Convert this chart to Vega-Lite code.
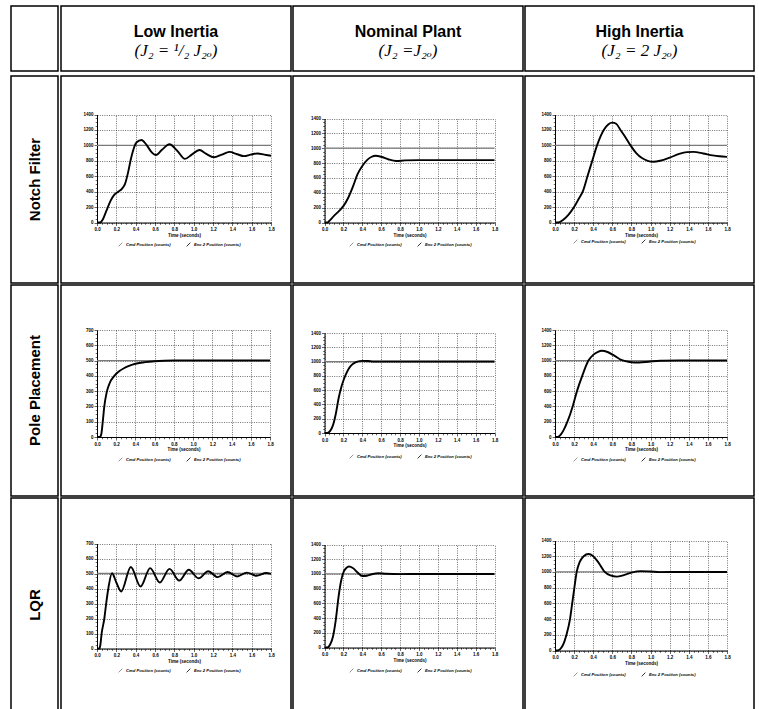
{
"$schema": "https://vega.github.io/schema/vega-lite/v6.json",
"padding": {"left": 10, "top": 5, "right": 0, "bottom": 0},
"background": "white",
"datasets": {
"notch_low": [{"t":0,"cmd":1000,"enc":0},{"t":0.03,"cmd":1000,"enc":0},{"t":0.06,"cmd":1000,"enc":40},{"t":0.1,"cmd":1000,"enc":160},{"t":0.14,"cmd":1000,"enc":280},{"t":0.18,"cmd":1000,"enc":360},{"t":0.22,"cmd":1000,"enc":400},{"t":0.26,"cmd":1000,"enc":440},{"t":0.29,"cmd":1000,"enc":500},{"t":0.32,"cmd":1000,"enc":640},{"t":0.35,"cmd":1000,"enc":820},{"t":0.38,"cmd":1000,"enc":960},{"t":0.41,"cmd":1000,"enc":1040},{"t":0.46,"cmd":1000,"enc":1070},{"t":0.51,"cmd":1000,"enc":1010},{"t":0.56,"cmd":1000,"enc":920},{"t":0.61,"cmd":1000,"enc":875},{"t":0.67,"cmd":1000,"enc":940},{"t":0.75,"cmd":1000,"enc":1015},{"t":0.83,"cmd":1000,"enc":930},{"t":0.91,"cmd":1000,"enc":825},{"t":0.98,"cmd":1000,"enc":880},{"t":1.06,"cmd":1000,"enc":940},{"t":1.13,"cmd":1000,"enc":890},{"t":1.21,"cmd":1000,"enc":845},{"t":1.29,"cmd":1000,"enc":880},{"t":1.37,"cmd":1000,"enc":915},{"t":1.45,"cmd":1000,"enc":885},{"t":1.52,"cmd":1000,"enc":860},{"t":1.59,"cmd":1000,"enc":880},{"t":1.66,"cmd":1000,"enc":895},{"t":1.73,"cmd":1000,"enc":880},{"t":1.8,"cmd":1000,"enc":865}],
"notch_nom": [{"t":0,"cmd":1000,"enc":0},{"t":0.03,"cmd":1000,"enc":0},{"t":0.05,"cmd":1000,"enc":20},{"t":0.1,"cmd":1000,"enc":90},{"t":0.15,"cmd":1000,"enc":150},{"t":0.2,"cmd":1000,"enc":220},{"t":0.25,"cmd":1000,"enc":330},{"t":0.3,"cmd":1000,"enc":480},{"t":0.35,"cmd":1000,"enc":650},{"t":0.4,"cmd":1000,"enc":760},{"t":0.45,"cmd":1000,"enc":840},{"t":0.5,"cmd":1000,"enc":885},{"t":0.54,"cmd":1000,"enc":898},{"t":0.6,"cmd":1000,"enc":885},{"t":0.68,"cmd":1000,"enc":848},{"t":0.76,"cmd":1000,"enc":828},{"t":0.85,"cmd":1000,"enc":836},{"t":1.0,"cmd":1000,"enc":840},{"t":1.8,"cmd":1000,"enc":840}],
"notch_high": [{"t":0,"cmd":1000,"enc":0},{"t":0.03,"cmd":1000,"enc":0},{"t":0.08,"cmd":1000,"enc":30},{"t":0.14,"cmd":1000,"enc":100},{"t":0.2,"cmd":1000,"enc":200},{"t":0.25,"cmd":1000,"enc":310},{"t":0.29,"cmd":1000,"enc":400},{"t":0.34,"cmd":1000,"enc":600},{"t":0.39,"cmd":1000,"enc":800},{"t":0.44,"cmd":1000,"enc":1000},{"t":0.51,"cmd":1000,"enc":1200},{"t":0.56,"cmd":1000,"enc":1275},{"t":0.6,"cmd":1000,"enc":1295},{"t":0.64,"cmd":1000,"enc":1280},{"t":0.685,"cmd":1000,"enc":1200},{"t":0.74,"cmd":1000,"enc":1100},{"t":0.79,"cmd":1000,"enc":1000},{"t":0.85,"cmd":1000,"enc":900},{"t":0.91,"cmd":1000,"enc":835},{"t":0.97,"cmd":1000,"enc":800},{"t":1.03,"cmd":1000,"enc":788},{"t":1.1,"cmd":1000,"enc":800},{"t":1.2,"cmd":1000,"enc":840},{"t":1.3,"cmd":1000,"enc":890},{"t":1.38,"cmd":1000,"enc":912},{"t":1.45,"cmd":1000,"enc":915},{"t":1.55,"cmd":1000,"enc":895},{"t":1.65,"cmd":1000,"enc":870},{"t":1.72,"cmd":1000,"enc":858},{"t":1.8,"cmd":1000,"enc":850}],
"pole_low": [{"t":0,"cmd":500,"enc":0},{"t":0.03,"cmd":500,"enc":0},{"t":0.045,"cmd":500,"enc":20},{"t":0.06,"cmd":500,"enc":100},{"t":0.076,"cmd":500,"enc":200},{"t":0.1,"cmd":500,"enc":290},{"t":0.13,"cmd":500,"enc":350},{"t":0.18,"cmd":500,"enc":400},{"t":0.23,"cmd":500,"enc":430},{"t":0.28,"cmd":500,"enc":450},{"t":0.34,"cmd":500,"enc":467},{"t":0.4,"cmd":500,"enc":479},{"t":0.5,"cmd":500,"enc":490},{"t":0.6,"cmd":500,"enc":496},{"t":0.7,"cmd":500,"enc":499},{"t":0.8,"cmd":500,"enc":500},{"t":1.8,"cmd":500,"enc":500}],
"pole_nom": [{"t":0,"cmd":1000,"enc":0},{"t":0.03,"cmd":1000,"enc":0},{"t":0.06,"cmd":1000,"enc":30},{"t":0.09,"cmd":1000,"enc":110},{"t":0.12,"cmd":1000,"enc":270},{"t":0.15,"cmd":1000,"enc":490},{"t":0.18,"cmd":1000,"enc":650},{"t":0.21,"cmd":1000,"enc":770},{"t":0.24,"cmd":1000,"enc":860},{"t":0.27,"cmd":1000,"enc":925},{"t":0.3,"cmd":1000,"enc":965},{"t":0.34,"cmd":1000,"enc":995},{"t":0.4,"cmd":1000,"enc":1010},{"t":0.46,"cmd":1000,"enc":1008},{"t":0.52,"cmd":1000,"enc":1002},{"t":0.6,"cmd":1000,"enc":1000},{"t":1.8,"cmd":1000,"enc":1000}],
"pole_high": [{"t":0,"cmd":1000,"enc":0},{"t":0.03,"cmd":1000,"enc":0},{"t":0.06,"cmd":1000,"enc":30},{"t":0.09,"cmd":1000,"enc":90},{"t":0.13,"cmd":1000,"enc":200},{"t":0.185,"cmd":1000,"enc":400},{"t":0.23,"cmd":1000,"enc":600},{"t":0.285,"cmd":1000,"enc":800},{"t":0.35,"cmd":1000,"enc":1000},{"t":0.4,"cmd":1000,"enc":1075},{"t":0.45,"cmd":1000,"enc":1115},{"t":0.49,"cmd":1000,"enc":1128},{"t":0.55,"cmd":1000,"enc":1112},{"t":0.62,"cmd":1000,"enc":1065},{"t":0.7,"cmd":1000,"enc":1005},{"t":0.78,"cmd":1000,"enc":982},{"t":0.88,"cmd":1000,"enc":975},{"t":0.98,"cmd":1000,"enc":985},{"t":1.1,"cmd":1000,"enc":998},{"t":1.3,"cmd":1000,"enc":1000},{"t":1.8,"cmd":1000,"enc":1000}],
"lqr_low": [{"t":0,"cmd":500,"enc":0},{"t":0.025,"cmd":500,"enc":0},{"t":0.035,"cmd":500,"enc":25},{"t":0.048,"cmd":500,"enc":100},{"t":0.076,"cmd":500,"enc":200},{"t":0.095,"cmd":500,"enc":300},{"t":0.117,"cmd":500,"enc":400},{"t":0.155,"cmd":500,"enc":502},{"t":0.2,"cmd":500,"enc":440},{"t":0.25,"cmd":500,"enc":380},{"t":0.35,"cmd":500,"enc":543},{"t":0.45,"cmd":500,"enc":413},{"t":0.55,"cmd":500,"enc":536},{"t":0.65,"cmd":500,"enc":440},{"t":0.75,"cmd":500,"enc":531},{"t":0.85,"cmd":500,"enc":453},{"t":0.95,"cmd":500,"enc":525},{"t":1.05,"cmd":500,"enc":468},{"t":1.15,"cmd":500,"enc":515},{"t":1.25,"cmd":500,"enc":476},{"t":1.35,"cmd":500,"enc":510},{"t":1.45,"cmd":500,"enc":480},{"t":1.55,"cmd":500,"enc":506},{"t":1.65,"cmd":500,"enc":485},{"t":1.75,"cmd":500,"enc":503},{"t":1.8,"cmd":500,"enc":497}],
"lqr_nom": [{"t":0,"cmd":1000,"enc":0},{"t":0.03,"cmd":1000,"enc":0},{"t":0.06,"cmd":1000,"enc":40},{"t":0.09,"cmd":1000,"enc":150},{"t":0.12,"cmd":1000,"enc":380},{"t":0.15,"cmd":1000,"enc":700},{"t":0.175,"cmd":1000,"enc":900},{"t":0.2,"cmd":1000,"enc":1020},{"t":0.23,"cmd":1000,"enc":1080},{"t":0.26,"cmd":1000,"enc":1100},{"t":0.3,"cmd":1000,"enc":1080},{"t":0.35,"cmd":1000,"enc":1020},{"t":0.4,"cmd":1000,"enc":972},{"t":0.45,"cmd":1000,"enc":975},{"t":0.5,"cmd":1000,"enc":995},{"t":0.57,"cmd":1000,"enc":1010},{"t":0.65,"cmd":1000,"enc":1003},{"t":0.8,"cmd":1000,"enc":998},{"t":1.0,"cmd":1000,"enc":1000},{"t":1.8,"cmd":1000,"enc":1000}],
"lqr_high": [{"t":0,"cmd":1000,"enc":0},{"t":0.03,"cmd":1000,"enc":0},{"t":0.07,"cmd":1000,"enc":40},{"t":0.1,"cmd":1000,"enc":120},{"t":0.12,"cmd":1000,"enc":200},{"t":0.157,"cmd":1000,"enc":400},{"t":0.18,"cmd":1000,"enc":600},{"t":0.203,"cmd":1000,"enc":800},{"t":0.227,"cmd":1000,"enc":1000},{"t":0.26,"cmd":1000,"enc":1130},{"t":0.3,"cmd":1000,"enc":1200},{"t":0.35,"cmd":1000,"enc":1228},{"t":0.4,"cmd":1000,"enc":1200},{"t":0.46,"cmd":1000,"enc":1110},{"t":0.52,"cmd":1000,"enc":1000},{"t":0.58,"cmd":1000,"enc":955},{"t":0.645,"cmd":1000,"enc":940},{"t":0.72,"cmd":1000,"enc":960},{"t":0.8,"cmd":1000,"enc":992},{"t":0.9,"cmd":1000,"enc":1010},{"t":1.0,"cmd":1000,"enc":1005},{"t":1.1,"cmd":1000,"enc":998},{"t":1.3,"cmd":1000,"enc":1000},{"t":1.8,"cmd":1000,"enc":1000}]
},
"spacing": 3,
"resolve": {"scale": {"color": "independent"}, "legend": {"color": "independent"}},
"vconcat": [
{
"spacing": 1,
"resolve": {"scale": {"color": "independent"}, "legend": {"color": "independent"}},
"hconcat": [
{"width": 47, "height": 65, "data": {"values": [{"label": ""}]}, "mark": {"type": "text"}, "encoding": {"text": {"field": "label"}, "x": {"datum": 0.5, "type": "quantitative", "scale": {"domain": [0, 1]}, "axis": null}, "y": {"datum": 0.5, "type": "quantitative", "scale": {"domain": [0, 1]}, "axis": null}}},
{"spacing": 0, "hconcat": [
{"width": 230, "height": 65, "data": {"values": [{"title": "Low Inertia", "formula": "(J₂ = ¹/₂ J₂ₒ)"}]}, "encoding": {"x": {"datum": 0.5, "type": "quantitative", "scale": {"domain": [0, 1]}, "axis": null}, "y": {"datum": 0.5, "type": "quantitative", "scale": {"domain": [0, 1]}, "axis": null}}, "layer": [
{"mark": {"type": "text", "font": "Liberation Sans", "fontWeight": "bold", "fontSize": 16, "dy": -7, "color": "black"}, "encoding": {"text": {"field": "title"}}},
{"mark": {"type": "text", "font": "Liberation Serif", "fontStyle": "italic", "fontSize": 17, "dy": 12, "color": "black"}, "encoding": {"text": {"field": "formula"}}}]},
{"width": 230, "height": 65, "data": {"values": [{"title": "Nominal Plant", "formula": "(J₂ =J₂ₒ)"}]}, "encoding": {"x": {"datum": 0.5, "type": "quantitative", "scale": {"domain": [0, 1]}, "axis": null}, "y": {"datum": 0.5, "type": "quantitative", "scale": {"domain": [0, 1]}, "axis": null}}, "layer": [
{"mark": {"type": "text", "font": "Liberation Sans", "fontWeight": "bold", "fontSize": 16, "dy": -7, "color": "black"}, "encoding": {"text": {"field": "title"}}},
{"mark": {"type": "text", "font": "Liberation Serif", "fontStyle": "italic", "fontSize": 17, "dy": 12, "color": "black"}, "encoding": {"text": {"field": "formula"}}}]},
{"width": 229, "height": 65, "data": {"values": [{"title": "High Inertia", "formula": "(J₂ = 2 J₂ₒ)"}]}, "encoding": {"x": {"datum": 0.5, "type": "quantitative", "scale": {"domain": [0, 1]}, "axis": null}, "y": {"datum": 0.5, "type": "quantitative", "scale": {"domain": [0, 1]}, "axis": null}}, "layer": [
{"mark": {"type": "text", "font": "Liberation Sans", "fontWeight": "bold", "fontSize": 16, "dy": -7, "color": "black"}, "encoding": {"text": {"field": "title"}}},
{"mark": {"type": "text", "font": "Liberation Serif", "fontStyle": "italic", "fontSize": 17, "dy": 12, "color": "black"}, "encoding": {"text": {"field": "formula"}}}]}
]}
]
},
{
"spacing": 0,
"resolve": {"scale": {"color": "independent"}, "legend": {"color": "independent"}},
"vconcat": [
{
"spacing": 1,
"resolve": {"scale": {"color": "independent"}, "legend": {"color": "independent"}},
"hconcat": [
{"width": 47, "height": 207, "data": {"values": [{"label": "Notch Filter"}]}, "mark": {"type": "text", "angle": 270, "font": "Liberation Sans", "fontWeight": "bold", "fontSize": 15, "color": "black"}, "encoding": {"text": {"field": "label"}, "x": {"datum": 0.5, "type": "quantitative", "scale": {"domain": [0, 1]}, "axis": null}, "y": {"datum": 0.5, "type": "quantitative", "scale": {"domain": [0, 1]}, "axis": null}}},
{"spacing": 0, "resolve": {"scale": {"color": "independent"}, "legend": {"color": "independent"}}, "hconcat": [
{"width": 230, "height": 207, "data": {"name": "notch_low"}, "transform": [{"fold": ["cmd", "enc"], "as": ["series", "pos"]}], "layer": [
{"transform": [{"filter": "datum.series === 'cmd'"}], "mark": {"type": "line", "strokeWidth": 1.3}, "encoding": {
"x": {"field": "t", "type": "quantitative", "scale": {"domain": [0, 1.8], "range": [36, 210], "nice": false, "zero": false}, "axis": {"orient": "top", "values": [0,0.2,0.4,0.6,0.8,1,1.2,1.4,1.6,1.8], "grid": true, "domain": false, "ticks": false, "labels": false, "title": null}},
"y": {"field": "pos", "type": "quantitative", "scale": {"domain": [0, 1400], "range": [146.5, 38.5], "nice": false, "zero": false}, "axis": {"orient": "left", "offset": -36, "values": [0,50,100,150,200,250,300,350,400,450,500,550,600,650,700,750,800,850,900,950,1000,1050,1100,1150,1200,1250,1300,1350,1400], "grid": true, "gridOpacity": {"condition": {"test": "datum.value % 200 === 0", "value": 1}, "value": 0}, "tickSize": {"condition": {"test": "datum.value % 200 === 0", "value": 3}, "value": 1.8}, "labelExpr": "datum.value % 200 === 0 ? format(datum.value, 'd') : ''", "title": null}},
"color": {"field": "series", "type": "nominal", "scale": {"domain": ["cmd", "enc"], "range": ["#7a7a7a", "#000000"]}, "legend": {"orient": "none", "legendX": 57, "legendY": 166, "direction": "horizontal", "title": null, "labelExpr": "datum.label === 'cmd' ? 'Cmd Position (counts)' : 'Enc 2 Position (counts)'", "encode": {"symbols": {"update": {"stroke": {"value": "black"}}}}}}}},
{"transform": [{"filter": "datum.series === 'enc'"}], "mark": {"type": "line", "strokeWidth": 1.9, "interpolate": "monotone"}, "encoding": {
"x": {"field": "t", "type": "quantitative", "scale": {"domain": [0, 1.8], "range": [36, 210], "nice": false, "zero": false}, "axis": {"orient": "bottom", "offset": -60.5, "values": [0,0.05,0.1,0.15,0.2,0.25,0.3,0.35,0.4,0.45,0.5,0.55,0.6,0.65,0.7,0.75,0.8,0.85,0.9,0.95,1,1.05,1.1,1.15,1.2,1.25,1.3,1.35,1.4,1.45,1.5,1.55,1.6,1.65,1.7,1.75,1.8], "grid": false, "tickSize": {"condition": {"test": "abs(datum.value*5 - round(datum.value*5)) < 0.001", "value": 3}, "value": 1.8}, "labelExpr": "abs(datum.value*5 - round(datum.value*5)) < 0.001 ? format(datum.value, '.1f') : ''", "title": "Time (seconds)"}},
"y": {"field": "pos", "type": "quantitative", "scale": {"domain": [0, 1400], "range": [146.5, 38.5], "nice": false, "zero": false}, "axis": {"orient": "left", "offset": -36, "values": [0,50,100,150,200,250,300,350,400,450,500,550,600,650,700,750,800,850,900,950,1000,1050,1100,1150,1200,1250,1300,1350,1400], "grid": true, "gridOpacity": {"condition": {"test": "datum.value % 200 === 0", "value": 1}, "value": 0}, "tickSize": {"condition": {"test": "datum.value % 200 === 0", "value": 3}, "value": 1.8}, "labelExpr": "datum.value % 200 === 0 ? format(datum.value, 'd') : ''", "title": null}},
"color": {"field": "series", "type": "nominal", "scale": {"domain": ["cmd", "enc"], "range": ["#7a7a7a", "#000000"]}, "legend": {"orient": "none", "legendX": 57, "legendY": 166, "direction": "horizontal", "title": null, "labelExpr": "datum.label === 'cmd' ? 'Cmd Position (counts)' : 'Enc 2 Position (counts)'", "encode": {"symbols": {"update": {"stroke": {"value": "black"}}}}}}}}]},
{"width": 230, "height": 207, "data": {"name": "notch_nom"}, "transform": [{"fold": ["cmd", "enc"], "as": ["series", "pos"]}], "layer": [
{"transform": [{"filter": "datum.series === 'cmd'"}], "mark": {"type": "line", "strokeWidth": 1.3}, "encoding": {
"x": {"field": "t", "type": "quantitative", "scale": {"domain": [0, 1.8], "range": [31.5, 201.5], "nice": false, "zero": false}, "axis": {"orient": "top", "values": [0,0.2,0.4,0.6,0.8,1,1.2,1.4,1.6,1.8], "grid": true, "domain": false, "ticks": false, "labels": false, "title": null}},
"y": {"field": "pos", "type": "quantitative", "scale": {"domain": [0, 1400], "range": [146.5, 42.5], "nice": false, "zero": false}, "axis": {"orient": "left", "offset": -31.5, "values": [0,50,100,150,200,250,300,350,400,450,500,550,600,650,700,750,800,850,900,950,1000,1050,1100,1150,1200,1250,1300,1350,1400], "grid": true, "gridOpacity": {"condition": {"test": "datum.value % 200 === 0", "value": 1}, "value": 0}, "tickSize": {"condition": {"test": "datum.value % 200 === 0", "value": 3}, "value": 1.8}, "labelExpr": "datum.value % 200 === 0 ? format(datum.value, 'd') : ''", "title": null}},
"color": {"field": "series", "type": "nominal", "scale": {"domain": ["cmd", "enc"], "range": ["#7a7a7a", "#000000"]}, "legend": {"orient": "none", "legendX": 56, "legendY": 166, "direction": "horizontal", "title": null, "labelExpr": "datum.label === 'cmd' ? 'Cmd Position (counts)' : 'Enc 2 Position (counts)'", "encode": {"symbols": {"update": {"stroke": {"value": "black"}}}}}}}},
{"transform": [{"filter": "datum.series === 'enc'"}], "mark": {"type": "line", "strokeWidth": 1.9, "interpolate": "monotone"}, "encoding": {
"x": {"field": "t", "type": "quantitative", "scale": {"domain": [0, 1.8], "range": [31.5, 201.5], "nice": false, "zero": false}, "axis": {"orient": "bottom", "offset": -60.5, "values": [0,0.05,0.1,0.15,0.2,0.25,0.3,0.35,0.4,0.45,0.5,0.55,0.6,0.65,0.7,0.75,0.8,0.85,0.9,0.95,1,1.05,1.1,1.15,1.2,1.25,1.3,1.35,1.4,1.45,1.5,1.55,1.6,1.65,1.7,1.75,1.8], "grid": false, "tickSize": {"condition": {"test": "abs(datum.value*5 - round(datum.value*5)) < 0.001", "value": 3}, "value": 1.8}, "labelExpr": "abs(datum.value*5 - round(datum.value*5)) < 0.001 ? format(datum.value, '.1f') : ''", "title": "Time (seconds)"}},
"y": {"field": "pos", "type": "quantitative", "scale": {"domain": [0, 1400], "range": [146.5, 42.5], "nice": false, "zero": false}, "axis": {"orient": "left", "offset": -31.5, "values": [0,50,100,150,200,250,300,350,400,450,500,550,600,650,700,750,800,850,900,950,1000,1050,1100,1150,1200,1250,1300,1350,1400], "grid": true, "gridOpacity": {"condition": {"test": "datum.value % 200 === 0", "value": 1}, "value": 0}, "tickSize": {"condition": {"test": "datum.value % 200 === 0", "value": 3}, "value": 1.8}, "labelExpr": "datum.value % 200 === 0 ? format(datum.value, 'd') : ''", "title": null}},
"color": {"field": "series", "type": "nominal", "scale": {"domain": ["cmd", "enc"], "range": ["#7a7a7a", "#000000"]}, "legend": {"orient": "none", "legendX": 56, "legendY": 166, "direction": "horizontal", "title": null, "labelExpr": "datum.label === 'cmd' ? 'Cmd Position (counts)' : 'Enc 2 Position (counts)'", "encode": {"symbols": {"update": {"stroke": {"value": "black"}}}}}}}}]},
{"width": 229, "height": 207, "data": {"name": "notch_high"}, "transform": [{"fold": ["cmd", "enc"], "as": ["series", "pos"]}], "layer": [
{"transform": [{"filter": "datum.series === 'cmd'"}], "mark": {"type": "line", "strokeWidth": 1.3}, "encoding": {
"x": {"field": "t", "type": "quantitative", "scale": {"domain": [0, 1.8], "range": [30, 202], "nice": false, "zero": false}, "axis": {"orient": "top", "values": [0,0.2,0.4,0.6,0.8,1,1.2,1.4,1.6,1.8], "grid": true, "domain": false, "ticks": false, "labels": false, "title": null}},
"y": {"field": "pos", "type": "quantitative", "scale": {"domain": [0, 1400], "range": [146.5, 38.5], "nice": false, "zero": false}, "axis": {"orient": "left", "offset": -30, "values": [0,50,100,150,200,250,300,350,400,450,500,550,600,650,700,750,800,850,900,950,1000,1050,1100,1150,1200,1250,1300,1350,1400], "grid": true, "gridOpacity": {"condition": {"test": "datum.value % 200 === 0", "value": 1}, "value": 0}, "tickSize": {"condition": {"test": "datum.value % 200 === 0", "value": 3}, "value": 1.8}, "labelExpr": "datum.value % 200 === 0 ? format(datum.value, 'd') : ''", "title": null}},
"color": {"field": "series", "type": "nominal", "scale": {"domain": ["cmd", "enc"], "range": ["#7a7a7a", "#000000"]}, "legend": {"orient": "none", "legendX": 48, "legendY": 163, "direction": "horizontal", "title": null, "labelExpr": "datum.label === 'cmd' ? 'Cmd Position (counts)' : 'Enc 2 Position (counts)'", "encode": {"symbols": {"update": {"stroke": {"value": "black"}}}}}}}},
{"transform": [{"filter": "datum.series === 'enc'"}], "mark": {"type": "line", "strokeWidth": 1.9, "interpolate": "monotone"}, "encoding": {
"x": {"field": "t", "type": "quantitative", "scale": {"domain": [0, 1.8], "range": [30, 202], "nice": false, "zero": false}, "axis": {"orient": "bottom", "offset": -60.5, "values": [0,0.05,0.1,0.15,0.2,0.25,0.3,0.35,0.4,0.45,0.5,0.55,0.6,0.65,0.7,0.75,0.8,0.85,0.9,0.95,1,1.05,1.1,1.15,1.2,1.25,1.3,1.35,1.4,1.45,1.5,1.55,1.6,1.65,1.7,1.75,1.8], "grid": false, "tickSize": {"condition": {"test": "abs(datum.value*5 - round(datum.value*5)) < 0.001", "value": 3}, "value": 1.8}, "labelExpr": "abs(datum.value*5 - round(datum.value*5)) < 0.001 ? format(datum.value, '.1f') : ''", "title": "Time (seconds)"}},
"y": {"field": "pos", "type": "quantitative", "scale": {"domain": [0, 1400], "range": [146.5, 38.5], "nice": false, "zero": false}, "axis": {"orient": "left", "offset": -30, "values": [0,50,100,150,200,250,300,350,400,450,500,550,600,650,700,750,800,850,900,950,1000,1050,1100,1150,1200,1250,1300,1350,1400], "grid": true, "gridOpacity": {"condition": {"test": "datum.value % 200 === 0", "value": 1}, "value": 0}, "tickSize": {"condition": {"test": "datum.value % 200 === 0", "value": 3}, "value": 1.8}, "labelExpr": "datum.value % 200 === 0 ? format(datum.value, 'd') : ''", "title": null}},
"color": {"field": "series", "type": "nominal", "scale": {"domain": ["cmd", "enc"], "range": ["#7a7a7a", "#000000"]}, "legend": {"orient": "none", "legendX": 48, "legendY": 163, "direction": "horizontal", "title": null, "labelExpr": "datum.label === 'cmd' ? 'Cmd Position (counts)' : 'Enc 2 Position (counts)'", "encode": {"symbols": {"update": {"stroke": {"value": "black"}}}}}}}}]}
]}
]
},
{
"spacing": 1,
"resolve": {"scale": {"color": "independent"}, "legend": {"color": "independent"}},
"hconcat": [
{"width": 47, "height": 211, "data": {"values": [{"label": "Pole Placement"}]}, "mark": {"type": "text", "angle": 270, "font": "Liberation Sans", "fontWeight": "bold", "fontSize": 15, "color": "black"}, "encoding": {"text": {"field": "label"}, "x": {"datum": 0.5, "type": "quantitative", "scale": {"domain": [0, 1]}, "axis": null}, "y": {"datum": 0.5, "type": "quantitative", "scale": {"domain": [0, 1]}, "axis": null}}},
{"spacing": 0, "resolve": {"scale": {"color": "independent"}, "legend": {"color": "independent"}}, "hconcat": [
{"width": 230, "height": 211, "data": {"name": "pole_low"}, "transform": [{"fold": ["cmd", "enc"], "as": ["series", "pos"]}], "layer": [
{"transform": [{"filter": "datum.series === 'cmd'"}], "mark": {"type": "line", "strokeWidth": 1.3}, "encoding": {
"x": {"field": "t", "type": "quantitative", "scale": {"domain": [0, 1.8], "range": [36, 209], "nice": false, "zero": false}, "axis": {"orient": "top", "values": [0,0.2,0.4,0.6,0.8,1,1.2,1.4,1.6,1.8], "grid": true, "domain": false, "ticks": false, "labels": false, "title": null}},
"y": {"field": "pos", "type": "quantitative", "scale": {"domain": [0, 700], "range": [152, 45], "nice": false, "zero": false}, "axis": {"orient": "left", "offset": -36, "values": [0,25,50,75,100,125,150,175,200,225,250,275,300,325,350,375,400,425,450,475,500,525,550,575,600,625,650,675,700], "grid": true, "gridOpacity": {"condition": {"test": "datum.value % 100 === 0", "value": 1}, "value": 0}, "tickSize": {"condition": {"test": "datum.value % 100 === 0", "value": 3}, "value": 1.8}, "labelExpr": "datum.value % 100 === 0 ? format(datum.value, 'd') : ''", "title": null}},
"color": {"field": "series", "type": "nominal", "scale": {"domain": ["cmd", "enc"], "range": ["#7a7a7a", "#000000"]}, "legend": {"orient": "none", "legendX": 57, "legendY": 172, "direction": "horizontal", "title": null, "labelExpr": "datum.label === 'cmd' ? 'Cmd Position (counts)' : 'Enc 2 Position (counts)'", "encode": {"symbols": {"update": {"stroke": {"value": "black"}}}}}}}},
{"transform": [{"filter": "datum.series === 'enc'"}], "mark": {"type": "line", "strokeWidth": 1.9, "interpolate": "monotone"}, "encoding": {
"x": {"field": "t", "type": "quantitative", "scale": {"domain": [0, 1.8], "range": [36, 209], "nice": false, "zero": false}, "axis": {"orient": "bottom", "offset": -59, "values": [0,0.05,0.1,0.15,0.2,0.25,0.3,0.35,0.4,0.45,0.5,0.55,0.6,0.65,0.7,0.75,0.8,0.85,0.9,0.95,1,1.05,1.1,1.15,1.2,1.25,1.3,1.35,1.4,1.45,1.5,1.55,1.6,1.65,1.7,1.75,1.8], "grid": false, "tickSize": {"condition": {"test": "abs(datum.value*5 - round(datum.value*5)) < 0.001", "value": 3}, "value": 1.8}, "labelExpr": "abs(datum.value*5 - round(datum.value*5)) < 0.001 ? format(datum.value, '.1f') : ''", "title": "Time (seconds)"}},
"y": {"field": "pos", "type": "quantitative", "scale": {"domain": [0, 700], "range": [152, 45], "nice": false, "zero": false}, "axis": {"orient": "left", "offset": -36, "values": [0,25,50,75,100,125,150,175,200,225,250,275,300,325,350,375,400,425,450,475,500,525,550,575,600,625,650,675,700], "grid": true, "gridOpacity": {"condition": {"test": "datum.value % 100 === 0", "value": 1}, "value": 0}, "tickSize": {"condition": {"test": "datum.value % 100 === 0", "value": 3}, "value": 1.8}, "labelExpr": "datum.value % 100 === 0 ? format(datum.value, 'd') : ''", "title": null}},
"color": {"field": "series", "type": "nominal", "scale": {"domain": ["cmd", "enc"], "range": ["#7a7a7a", "#000000"]}, "legend": {"orient": "none", "legendX": 57, "legendY": 172, "direction": "horizontal", "title": null, "labelExpr": "datum.label === 'cmd' ? 'Cmd Position (counts)' : 'Enc 2 Position (counts)'", "encode": {"symbols": {"update": {"stroke": {"value": "black"}}}}}}}}]},
{"width": 230, "height": 211, "data": {"name": "pole_nom"}, "transform": [{"fold": ["cmd", "enc"], "as": ["series", "pos"]}], "layer": [
{"transform": [{"filter": "datum.series === 'cmd'"}], "mark": {"type": "line", "strokeWidth": 1.3}, "encoding": {
"x": {"field": "t", "type": "quantitative", "scale": {"domain": [0, 1.8], "range": [31.5, 201.5], "nice": false, "zero": false}, "axis": {"orient": "top", "values": [0,0.2,0.4,0.6,0.8,1,1.2,1.4,1.6,1.8], "grid": true, "domain": false, "ticks": false, "labels": false, "title": null}},
"y": {"field": "pos", "type": "quantitative", "scale": {"domain": [0, 1400], "range": [148, 48], "nice": false, "zero": false}, "axis": {"orient": "left", "offset": -31.5, "values": [0,50,100,150,200,250,300,350,400,450,500,550,600,650,700,750,800,850,900,950,1000,1050,1100,1150,1200,1250,1300,1350,1400], "grid": true, "gridOpacity": {"condition": {"test": "datum.value % 200 === 0", "value": 1}, "value": 0}, "tickSize": {"condition": {"test": "datum.value % 200 === 0", "value": 3}, "value": 1.8}, "labelExpr": "datum.value % 200 === 0 ? format(datum.value, 'd') : ''", "title": null}},
"color": {"field": "series", "type": "nominal", "scale": {"domain": ["cmd", "enc"], "range": ["#7a7a7a", "#000000"]}, "legend": {"orient": "none", "legendX": 56, "legendY": 169, "direction": "horizontal", "title": null, "labelExpr": "datum.label === 'cmd' ? 'Cmd Position (counts)' : 'Enc 2 Position (counts)'", "encode": {"symbols": {"update": {"stroke": {"value": "black"}}}}}}}},
{"transform": [{"filter": "datum.series === 'enc'"}], "mark": {"type": "line", "strokeWidth": 1.9, "interpolate": "monotone"}, "encoding": {
"x": {"field": "t", "type": "quantitative", "scale": {"domain": [0, 1.8], "range": [31.5, 201.5], "nice": false, "zero": false}, "axis": {"orient": "bottom", "offset": -63, "values": [0,0.05,0.1,0.15,0.2,0.25,0.3,0.35,0.4,0.45,0.5,0.55,0.6,0.65,0.7,0.75,0.8,0.85,0.9,0.95,1,1.05,1.1,1.15,1.2,1.25,1.3,1.35,1.4,1.45,1.5,1.55,1.6,1.65,1.7,1.75,1.8], "grid": false, "tickSize": {"condition": {"test": "abs(datum.value*5 - round(datum.value*5)) < 0.001", "value": 3}, "value": 1.8}, "labelExpr": "abs(datum.value*5 - round(datum.value*5)) < 0.001 ? format(datum.value, '.1f') : ''", "title": "Time (seconds)"}},
"y": {"field": "pos", "type": "quantitative", "scale": {"domain": [0, 1400], "range": [148, 48], "nice": false, "zero": false}, "axis": {"orient": "left", "offset": -31.5, "values": [0,50,100,150,200,250,300,350,400,450,500,550,600,650,700,750,800,850,900,950,1000,1050,1100,1150,1200,1250,1300,1350,1400], "grid": true, "gridOpacity": {"condition": {"test": "datum.value % 200 === 0", "value": 1}, "value": 0}, "tickSize": {"condition": {"test": "datum.value % 200 === 0", "value": 3}, "value": 1.8}, "labelExpr": "datum.value % 200 === 0 ? format(datum.value, 'd') : ''", "title": null}},
"color": {"field": "series", "type": "nominal", "scale": {"domain": ["cmd", "enc"], "range": ["#7a7a7a", "#000000"]}, "legend": {"orient": "none", "legendX": 56, "legendY": 169, "direction": "horizontal", "title": null, "labelExpr": "datum.label === 'cmd' ? 'Cmd Position (counts)' : 'Enc 2 Position (counts)'", "encode": {"symbols": {"update": {"stroke": {"value": "black"}}}}}}}}]},
{"width": 229, "height": 211, "data": {"name": "pole_high"}, "transform": [{"fold": ["cmd", "enc"], "as": ["series", "pos"]}], "layer": [
{"transform": [{"filter": "datum.series === 'cmd'"}], "mark": {"type": "line", "strokeWidth": 1.3}, "encoding": {
"x": {"field": "t", "type": "quantitative", "scale": {"domain": [0, 1.8], "range": [30, 202], "nice": false, "zero": false}, "axis": {"orient": "top", "values": [0,0.2,0.4,0.6,0.8,1,1.2,1.4,1.6,1.8], "grid": true, "domain": false, "ticks": false, "labels": false, "title": null}},
"y": {"field": "pos", "type": "quantitative", "scale": {"domain": [0, 1400], "range": [152, 45], "nice": false, "zero": false}, "axis": {"orient": "left", "offset": -30, "values": [0,50,100,150,200,250,300,350,400,450,500,550,600,650,700,750,800,850,900,950,1000,1050,1100,1150,1200,1250,1300,1350,1400], "grid": true, "gridOpacity": {"condition": {"test": "datum.value % 200 === 0", "value": 1}, "value": 0}, "tickSize": {"condition": {"test": "datum.value % 200 === 0", "value": 3}, "value": 1.8}, "labelExpr": "datum.value % 200 === 0 ? format(datum.value, 'd') : ''", "title": null}},
"color": {"field": "series", "type": "nominal", "scale": {"domain": ["cmd", "enc"], "range": ["#7a7a7a", "#000000"]}, "legend": {"orient": "none", "legendX": 48, "legendY": 172, "direction": "horizontal", "title": null, "labelExpr": "datum.label === 'cmd' ? 'Cmd Position (counts)' : 'Enc 2 Position (counts)'", "encode": {"symbols": {"update": {"stroke": {"value": "black"}}}}}}}},
{"transform": [{"filter": "datum.series === 'enc'"}], "mark": {"type": "line", "strokeWidth": 1.9, "interpolate": "monotone"}, "encoding": {
"x": {"field": "t", "type": "quantitative", "scale": {"domain": [0, 1.8], "range": [30, 202], "nice": false, "zero": false}, "axis": {"orient": "bottom", "offset": -59, "values": [0,0.05,0.1,0.15,0.2,0.25,0.3,0.35,0.4,0.45,0.5,0.55,0.6,0.65,0.7,0.75,0.8,0.85,0.9,0.95,1,1.05,1.1,1.15,1.2,1.25,1.3,1.35,1.4,1.45,1.5,1.55,1.6,1.65,1.7,1.75,1.8], "grid": false, "tickSize": {"condition": {"test": "abs(datum.value*5 - round(datum.value*5)) < 0.001", "value": 3}, "value": 1.8}, "labelExpr": "abs(datum.value*5 - round(datum.value*5)) < 0.001 ? format(datum.value, '.1f') : ''", "title": "Time (seconds)"}},
"y": {"field": "pos", "type": "quantitative", "scale": {"domain": [0, 1400], "range": [152, 45], "nice": false, "zero": false}, "axis": {"orient": "left", "offset": -30, "values": [0,50,100,150,200,250,300,350,400,450,500,550,600,650,700,750,800,850,900,950,1000,1050,1100,1150,1200,1250,1300,1350,1400], "grid": true, "gridOpacity": {"condition": {"test": "datum.value % 200 === 0", "value": 1}, "value": 0}, "tickSize": {"condition": {"test": "datum.value % 200 === 0", "value": 3}, "value": 1.8}, "labelExpr": "datum.value % 200 === 0 ? format(datum.value, 'd') : ''", "title": null}},
"color": {"field": "series", "type": "nominal", "scale": {"domain": ["cmd", "enc"], "range": ["#7a7a7a", "#000000"]}, "legend": {"orient": "none", "legendX": 48, "legendY": 172, "direction": "horizontal", "title": null, "labelExpr": "datum.label === 'cmd' ? 'Cmd Position (counts)' : 'Enc 2 Position (counts)'", "encode": {"symbols": {"update": {"stroke": {"value": "black"}}}}}}}}]}
]}
]
},
{
"spacing": 1,
"resolve": {"scale": {"color": "independent"}, "legend": {"color": "independent"}},
"hconcat": [
{"width": 47, "height": 214, "data": {"values": [{"label": "LQR"}]}, "mark": {"type": "text", "angle": 270, "font": "Liberation Sans", "fontWeight": "bold", "fontSize": 15, "color": "black"}, "encoding": {"text": {"field": "label"}, "x": {"datum": 0.5, "type": "quantitative", "scale": {"domain": [0, 1]}, "axis": null}, "y": {"datum": 0.5, "type": "quantitative", "scale": {"domain": [0, 1]}, "axis": null}}},
{"spacing": 0, "resolve": {"scale": {"color": "independent"}, "legend": {"color": "independent"}}, "hconcat": [
{"width": 230, "height": 214, "data": {"name": "lqr_low"}, "transform": [{"fold": ["cmd", "enc"], "as": ["series", "pos"]}], "layer": [
{"transform": [{"filter": "datum.series === 'cmd'"}], "mark": {"type": "line", "strokeWidth": 1.3}, "encoding": {
"x": {"field": "t", "type": "quantitative", "scale": {"domain": [0, 1.8], "range": [36, 210], "nice": false, "zero": false}, "axis": {"orient": "top", "values": [0,0.2,0.4,0.6,0.8,1,1.2,1.4,1.6,1.8], "grid": true, "domain": false, "ticks": false, "labels": false, "title": null}},
"y": {"field": "pos", "type": "quantitative", "scale": {"domain": [0, 700], "range": [150.5, 45.5], "nice": false, "zero": false}, "axis": {"orient": "left", "offset": -36, "values": [0,25,50,75,100,125,150,175,200,225,250,275,300,325,350,375,400,425,450,475,500,525,550,575,600,625,650,675,700], "grid": true, "gridOpacity": {"condition": {"test": "datum.value % 100 === 0", "value": 1}, "value": 0}, "tickSize": {"condition": {"test": "datum.value % 100 === 0", "value": 3}, "value": 1.8}, "labelExpr": "datum.value % 100 === 0 ? format(datum.value, 'd') : ''", "title": null}},
"color": {"field": "series", "type": "nominal", "scale": {"domain": ["cmd", "enc"], "range": ["#7a7a7a", "#000000"]}, "legend": {"orient": "none", "legendX": 57, "legendY": 170, "direction": "horizontal", "title": null, "labelExpr": "datum.label === 'cmd' ? 'Cmd Position (counts)' : 'Enc 2 Position (counts)'", "encode": {"symbols": {"update": {"stroke": {"value": "black"}}}}}}}},
{"transform": [{"filter": "datum.series === 'enc'"}], "mark": {"type": "line", "strokeWidth": 1.9, "interpolate": "monotone"}, "encoding": {
"x": {"field": "t", "type": "quantitative", "scale": {"domain": [0, 1.8], "range": [36, 210], "nice": false, "zero": false}, "axis": {"orient": "bottom", "offset": -63.5, "values": [0,0.05,0.1,0.15,0.2,0.25,0.3,0.35,0.4,0.45,0.5,0.55,0.6,0.65,0.7,0.75,0.8,0.85,0.9,0.95,1,1.05,1.1,1.15,1.2,1.25,1.3,1.35,1.4,1.45,1.5,1.55,1.6,1.65,1.7,1.75,1.8], "grid": false, "tickSize": {"condition": {"test": "abs(datum.value*5 - round(datum.value*5)) < 0.001", "value": 3}, "value": 1.8}, "labelExpr": "abs(datum.value*5 - round(datum.value*5)) < 0.001 ? format(datum.value, '.1f') : ''", "title": "Time (seconds)"}},
"y": {"field": "pos", "type": "quantitative", "scale": {"domain": [0, 700], "range": [150.5, 45.5], "nice": false, "zero": false}, "axis": {"orient": "left", "offset": -36, "values": [0,25,50,75,100,125,150,175,200,225,250,275,300,325,350,375,400,425,450,475,500,525,550,575,600,625,650,675,700], "grid": true, "gridOpacity": {"condition": {"test": "datum.value % 100 === 0", "value": 1}, "value": 0}, "tickSize": {"condition": {"test": "datum.value % 100 === 0", "value": 3}, "value": 1.8}, "labelExpr": "datum.value % 100 === 0 ? format(datum.value, 'd') : ''", "title": null}},
"color": {"field": "series", "type": "nominal", "scale": {"domain": ["cmd", "enc"], "range": ["#7a7a7a", "#000000"]}, "legend": {"orient": "none", "legendX": 57, "legendY": 170, "direction": "horizontal", "title": null, "labelExpr": "datum.label === 'cmd' ? 'Cmd Position (counts)' : 'Enc 2 Position (counts)'", "encode": {"symbols": {"update": {"stroke": {"value": "black"}}}}}}}}]},
{"width": 230, "height": 214, "data": {"name": "lqr_nom"}, "transform": [{"fold": ["cmd", "enc"], "as": ["series", "pos"]}], "layer": [
{"transform": [{"filter": "datum.series === 'cmd'"}], "mark": {"type": "line", "strokeWidth": 1.3}, "encoding": {
"x": {"field": "t", "type": "quantitative", "scale": {"domain": [0, 1.8], "range": [31.5, 201.5], "nice": false, "zero": false}, "axis": {"orient": "top", "values": [0,0.2,0.4,0.6,0.8,1,1.2,1.4,1.6,1.8], "grid": true, "domain": false, "ticks": false, "labels": false, "title": null}},
"y": {"field": "pos", "type": "quantitative", "scale": {"domain": [0, 1400], "range": [149.5, 46.5], "nice": false, "zero": false}, "axis": {"orient": "left", "offset": -31.5, "values": [0,50,100,150,200,250,300,350,400,450,500,550,600,650,700,750,800,850,900,950,1000,1050,1100,1150,1200,1250,1300,1350,1400], "grid": true, "gridOpacity": {"condition": {"test": "datum.value % 200 === 0", "value": 1}, "value": 0}, "tickSize": {"condition": {"test": "datum.value % 200 === 0", "value": 3}, "value": 1.8}, "labelExpr": "datum.value % 200 === 0 ? format(datum.value, 'd') : ''", "title": null}},
"color": {"field": "series", "type": "nominal", "scale": {"domain": ["cmd", "enc"], "range": ["#7a7a7a", "#000000"]}, "legend": {"orient": "none", "legendX": 56, "legendY": 170, "direction": "horizontal", "title": null, "labelExpr": "datum.label === 'cmd' ? 'Cmd Position (counts)' : 'Enc 2 Position (counts)'", "encode": {"symbols": {"update": {"stroke": {"value": "black"}}}}}}}},
{"transform": [{"filter": "datum.series === 'enc'"}], "mark": {"type": "line", "strokeWidth": 1.9, "interpolate": "monotone"}, "encoding": {
"x": {"field": "t", "type": "quantitative", "scale": {"domain": [0, 1.8], "range": [31.5, 201.5], "nice": false, "zero": false}, "axis": {"orient": "bottom", "offset": -64.5, "values": [0,0.05,0.1,0.15,0.2,0.25,0.3,0.35,0.4,0.45,0.5,0.55,0.6,0.65,0.7,0.75,0.8,0.85,0.9,0.95,1,1.05,1.1,1.15,1.2,1.25,1.3,1.35,1.4,1.45,1.5,1.55,1.6,1.65,1.7,1.75,1.8], "grid": false, "tickSize": {"condition": {"test": "abs(datum.value*5 - round(datum.value*5)) < 0.001", "value": 3}, "value": 1.8}, "labelExpr": "abs(datum.value*5 - round(datum.value*5)) < 0.001 ? format(datum.value, '.1f') : ''", "title": "Time (seconds)"}},
"y": {"field": "pos", "type": "quantitative", "scale": {"domain": [0, 1400], "range": [149.5, 46.5], "nice": false, "zero": false}, "axis": {"orient": "left", "offset": -31.5, "values": [0,50,100,150,200,250,300,350,400,450,500,550,600,650,700,750,800,850,900,950,1000,1050,1100,1150,1200,1250,1300,1350,1400], "grid": true, "gridOpacity": {"condition": {"test": "datum.value % 200 === 0", "value": 1}, "value": 0}, "tickSize": {"condition": {"test": "datum.value % 200 === 0", "value": 3}, "value": 1.8}, "labelExpr": "datum.value % 200 === 0 ? format(datum.value, 'd') : ''", "title": null}},
"color": {"field": "series", "type": "nominal", "scale": {"domain": ["cmd", "enc"], "range": ["#7a7a7a", "#000000"]}, "legend": {"orient": "none", "legendX": 56, "legendY": 170, "direction": "horizontal", "title": null, "labelExpr": "datum.label === 'cmd' ? 'Cmd Position (counts)' : 'Enc 2 Position (counts)'", "encode": {"symbols": {"update": {"stroke": {"value": "black"}}}}}}}}]},
{"width": 229, "height": 214, "data": {"name": "lqr_high"}, "transform": [{"fold": ["cmd", "enc"], "as": ["series", "pos"]}], "layer": [
{"transform": [{"filter": "datum.series === 'cmd'"}], "mark": {"type": "line", "strokeWidth": 1.3}, "encoding": {
"x": {"field": "t", "type": "quantitative", "scale": {"domain": [0, 1.8], "range": [30, 202], "nice": false, "zero": false}, "axis": {"orient": "top", "values": [0,0.2,0.4,0.6,0.8,1,1.2,1.4,1.6,1.8], "grid": true, "domain": false, "ticks": false, "labels": false, "title": null}},
"y": {"field": "pos", "type": "quantitative", "scale": {"domain": [0, 1400], "range": [152.5, 42.5], "nice": false, "zero": false}, "axis": {"orient": "left", "offset": -30, "values": [0,50,100,150,200,250,300,350,400,450,500,550,600,650,700,750,800,850,900,950,1000,1050,1100,1150,1200,1250,1300,1350,1400], "grid": true, "gridOpacity": {"condition": {"test": "datum.value % 200 === 0", "value": 1}, "value": 0}, "tickSize": {"condition": {"test": "datum.value % 200 === 0", "value": 3}, "value": 1.8}, "labelExpr": "datum.value % 200 === 0 ? format(datum.value, 'd') : ''", "title": null}},
"color": {"field": "series", "type": "nominal", "scale": {"domain": ["cmd", "enc"], "range": ["#7a7a7a", "#000000"]}, "legend": {"orient": "none", "legendX": 48, "legendY": 174, "direction": "horizontal", "title": null, "labelExpr": "datum.label === 'cmd' ? 'Cmd Position (counts)' : 'Enc 2 Position (counts)'", "encode": {"symbols": {"update": {"stroke": {"value": "black"}}}}}}}},
{"transform": [{"filter": "datum.series === 'enc'"}], "mark": {"type": "line", "strokeWidth": 1.9, "interpolate": "monotone"}, "encoding": {
"x": {"field": "t", "type": "quantitative", "scale": {"domain": [0, 1.8], "range": [30, 202], "nice": false, "zero": false}, "axis": {"orient": "bottom", "offset": -61.5, "values": [0,0.05,0.1,0.15,0.2,0.25,0.3,0.35,0.4,0.45,0.5,0.55,0.6,0.65,0.7,0.75,0.8,0.85,0.9,0.95,1,1.05,1.1,1.15,1.2,1.25,1.3,1.35,1.4,1.45,1.5,1.55,1.6,1.65,1.7,1.75,1.8], "grid": false, "tickSize": {"condition": {"test": "abs(datum.value*5 - round(datum.value*5)) < 0.001", "value": 3}, "value": 1.8}, "labelExpr": "abs(datum.value*5 - round(datum.value*5)) < 0.001 ? format(datum.value, '.1f') : ''", "title": "Time (seconds)"}},
"y": {"field": "pos", "type": "quantitative", "scale": {"domain": [0, 1400], "range": [152.5, 42.5], "nice": false, "zero": false}, "axis": {"orient": "left", "offset": -30, "values": [0,50,100,150,200,250,300,350,400,450,500,550,600,650,700,750,800,850,900,950,1000,1050,1100,1150,1200,1250,1300,1350,1400], "grid": true, "gridOpacity": {"condition": {"test": "datum.value % 200 === 0", "value": 1}, "value": 0}, "tickSize": {"condition": {"test": "datum.value % 200 === 0", "value": 3}, "value": 1.8}, "labelExpr": "datum.value % 200 === 0 ? format(datum.value, 'd') : ''", "title": null}},
"color": {"field": "series", "type": "nominal", "scale": {"domain": ["cmd", "enc"], "range": ["#7a7a7a", "#000000"]}, "legend": {"orient": "none", "legendX": 48, "legendY": 174, "direction": "horizontal", "title": null, "labelExpr": "datum.label === 'cmd' ? 'Cmd Position (counts)' : 'Enc 2 Position (counts)'", "encode": {"symbols": {"update": {"stroke": {"value": "black"}}}}}}}}]}
]}
]
}
]
}
],
"config": {
"view": {"stroke": "black", "strokeWidth": 1.5},
"axis": {"labelFont": "Liberation Sans", "labelFontSize": 4.5, "labelFontWeight": "bold", "labelColor": "black", "labelPadding": 1, "labelOverlap": false, "labelFlush": false, "tickColor": "black", "tickWidth": 0.6, "domainColor": "black", "domainWidth": 1, "gridColor": "#333333", "gridDash": [1, 1.3], "gridWidth": 0.7, "titleFont": "Liberation Sans", "titleFontSize": 4.5, "titleFontWeight": "bold", "titleColor": "black", "titlePadding": 1},
"legend": {"labelFont": "Liberation Sans", "labelFontSize": 4.2, "labelFontWeight": "bold", "labelFontStyle": "italic", "labelColor": "black", "symbolType": "M-1,1L1,-1", "symbolSize": 14, "symbolStrokeWidth": 0.8, "columnPadding": 14, "labelOffset": 3, "padding": 0}
}
}
